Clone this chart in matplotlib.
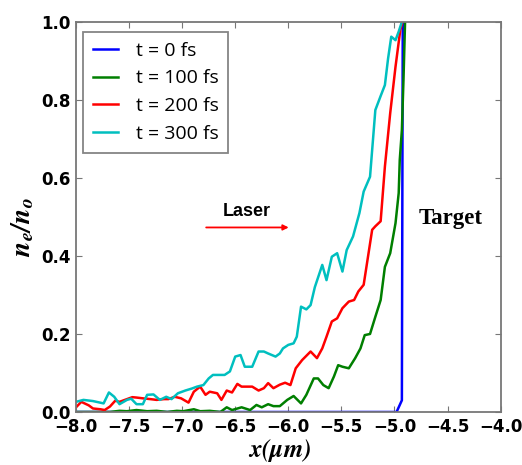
import matplotlib
matplotlib.use("Agg")
import matplotlib.pyplot as plt

plt.rcParams['mathtext.fontset'] = 'stix'

x_t0 = [-8.00, -4.98, -4.93, -4.92]
y_t0 = [0.0, 0.0, 0.03, 1.2]

x_t100 = [-8.00, -7.68, -7.59, -7.52, -7.43, -7.33, -7.24, -7.14, -7.05, -6.99, -6.89,
          -6.83, -6.74, -6.64, -6.58, -6.53, -6.44, -6.36, -6.30, -6.25, -6.19, -6.14,
          -6.08, -6.01, -5.95, -5.88, -5.83, -5.76, -5.72, -5.67, -5.62, -5.57, -5.53,
          -5.49, -5.43, -5.37, -5.32, -5.28, -5.23, -5.18, -5.13, -5.09, -5.04, -4.99,
          -4.96, -4.95, -4.93, -4.915, -4.90, -4.88]
y_t100 = [0.0, 0.0, 0.003, 0.002, 0.005, 0.002, 0.003, 0.0, 0.003, 0.002, 0.007,
          0.002, 0.003, 0.0, 0.012, 0.005, 0.012, 0.005, 0.018, 0.012, 0.020, 0.015,
          0.015, 0.031, 0.041, 0.022, 0.044, 0.086, 0.086, 0.069, 0.061, 0.091, 0.120,
          0.116, 0.112, 0.138, 0.163, 0.197, 0.200, 0.244, 0.287, 0.372, 0.407, 0.484,
          0.561, 0.646, 0.723, 0.851, 1.0, 1.2]

x_t200 = [-8.00, -7.95, -7.88, -7.84, -7.77, -7.73, -7.68, -7.63, -7.59, -7.52, -7.47,
          -7.43, -7.37, -7.30, -7.24, -7.17, -7.13, -7.07, -7.01, -6.94, -6.89, -6.83,
          -6.78, -6.74, -6.67, -6.63, -6.58, -6.53, -6.48, -6.44, -6.39, -6.34, -6.28,
          -6.23, -6.19, -6.14, -6.08, -6.03, -5.98, -5.93, -5.87, -5.79, -5.73, -5.68,
          -5.64, -5.59, -5.54, -5.49, -5.43, -5.38, -5.34, -5.29, -5.21, -5.18, -5.13,
          -5.09, -5.04, -4.99, -4.945, -4.925, -4.90]
y_t200 = [0.012, 0.026, 0.017, 0.009, 0.007, 0.005, 0.014, 0.029, 0.026, 0.033, 0.038,
          0.037, 0.035, 0.033, 0.031, 0.033, 0.033, 0.039, 0.035, 0.024, 0.052, 0.065,
          0.044, 0.052, 0.048, 0.031, 0.055, 0.050, 0.072, 0.065, 0.065, 0.065, 0.055,
          0.061, 0.074, 0.061, 0.070, 0.075, 0.069, 0.112, 0.133, 0.155, 0.138, 0.163,
          0.193, 0.232, 0.240, 0.266, 0.283, 0.287, 0.309, 0.326, 0.467, 0.476, 0.489,
          0.629, 0.766, 0.885, 0.979, 1.0, 1.2]

x_t300 = [-8.00, -7.93, -7.84, -7.74, -7.69, -7.64, -7.59, -7.52, -7.48, -7.43, -7.37,
          -7.33, -7.27, -7.21, -7.15, -7.10, -7.04, -6.97, -6.91, -6.86, -6.80, -6.75,
          -6.71, -6.66, -6.60, -6.55, -6.50, -6.45, -6.41, -6.34, -6.28, -6.23, -6.19,
          -6.12, -6.08, -6.05, -6.00, -5.95, -5.92, -5.88, -5.83, -5.79, -5.75, -5.68,
          -5.64, -5.59, -5.54, -5.49, -5.45, -5.39, -5.33, -5.29, -5.23, -5.18, -5.13,
          -5.09, -5.06, -5.03, -4.99, -4.96, -4.93, -4.90]
y_t300 = [0.026, 0.031, 0.028, 0.022, 0.050, 0.039, 0.020, 0.031, 0.034, 0.020, 0.020,
          0.044, 0.045, 0.031, 0.039, 0.033, 0.048, 0.055, 0.060, 0.065, 0.069, 0.086,
          0.095, 0.095, 0.095, 0.104, 0.142, 0.146, 0.116, 0.116, 0.155, 0.155, 0.150,
          0.142, 0.150, 0.163, 0.172, 0.176, 0.193, 0.270, 0.263, 0.274, 0.320, 0.377,
          0.338, 0.398, 0.407, 0.360, 0.415, 0.450, 0.510, 0.565, 0.603, 0.774, 0.810,
          0.838, 0.906, 0.962, 0.953, 0.975, 1.0, 1.2]

labels = ['t = 0 fs', 't = 100 fs', 't = 200 fs', 't = 300 fs']
colors = ['#0000ff', '#007f00', '#ff0000', '#00bfbf']
xticks = [-8.0, -7.5, -7.0, -6.5, -6.0, -5.5, -5.0, -4.5, -4.0]
yticks = [0.0, 0.2, 0.4, 0.6, 0.8, 1.0]

fig = plt.figure(figsize=(5.22, 4.65), dpi=100)
ax = fig.add_axes([0.1456, 0.114, 0.959 - 0.1456, 0.953 - 0.114])

series = [(x_t0, y_t0), (x_t100, y_t100), (x_t200, y_t200), (x_t300, y_t300)]
for (xs, ys), lab, c in zip(series, labels, colors):
    ax.plot(xs, ys, color=c, lw=1.8, label=lab)

ax.set_xlim(-8.0, -4.0)
ax.set_ylim(0.0, 1.0)
ax.set_xticks(xticks)
ax.set_yticks(yticks)
ax.set_xticklabels([f'{v:.1f}'.replace('-', '\u2212') for v in xticks],
                   fontsize=12, fontweight='bold')
ax.set_yticklabels([f'{v:.1f}' for v in yticks], fontsize=12, fontweight='bold')
ax.tick_params(direction='in', length=4, width=0.8, color='#777777',
               top=True, right=True, pad=4)
for s in ax.spines.values():
    s.set_color('#777777')
    s.set_linewidth(1.3)

ax.set_xlabel(r'$\mathbfit{x(\mu m)}$', fontsize=18)
ax.xaxis.set_label_coords(0.48, -0.064)
ax.set_ylabel(r'$\mathbfit{n_e/n_o}$', fontsize=20)
ax.yaxis.set_label_coords(-0.094, 0.474)

leg = ax.legend(loc='upper left', prop={'family': 'Open Sans', 'size': 14},
                frameon=True, fancybox=False, handlelength=1.3, handletextpad=0.9,
                labelspacing=0.5, borderpad=0.5, borderaxespad=0.0,
                bbox_to_anchor=(0.0165, 0.974))
leg.get_frame().set_edgecolor('#666666')
leg.get_frame().set_linewidth(1.3)

ax.text(-6.39, 0.515, 'Laser', fontsize=13, fontweight='bold',
        family='Liberation Sans', ha='center', va='center')
ax.annotate('', xy=(-5.97, 0.473), xytext=(-6.80, 0.473),
            arrowprops=dict(arrowstyle='-|>', color='#ff0000', lw=1.3,
                            mutation_scale=8))
ax.text(-4.475, 0.497, 'Target', fontsize=16.5, fontweight='bold',
        family='Liberation Serif', ha='center', va='center')

fig.savefig('out.png', dpi=100)
